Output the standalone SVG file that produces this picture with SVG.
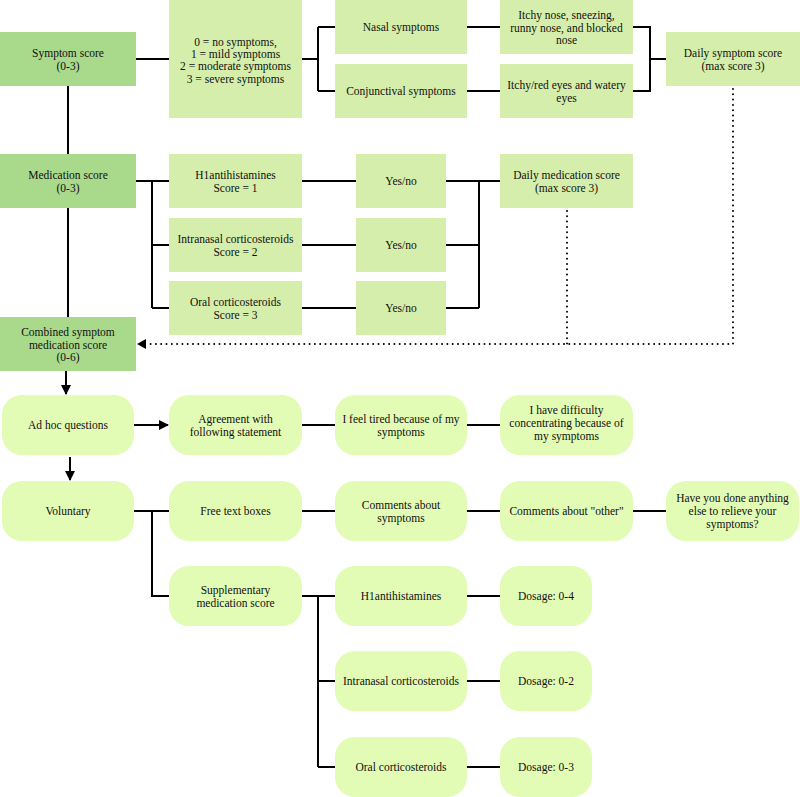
<svg xmlns="http://www.w3.org/2000/svg" width="800" height="797" viewBox="0 0 800 797">
<style>
.d{fill:#a9d98b}
.l{fill:#d5eeab}
.r{fill:#e2fbb5}
text{font-family:"Liberation Serif","Times New Roman",serif;font-size:11.5px;fill:#111;text-anchor:middle}
.c{fill:none;stroke:#000;stroke-width:2}
.dot{fill:none;stroke:#000;stroke-width:2;stroke-linecap:round;stroke-dasharray:0 5.3}
</style>
<defs>
<marker id="ah" markerWidth="10" markerHeight="10" refX="9" refY="5" orient="auto" markerUnits="userSpaceOnUse">
<path d="M0,0 L10,5 L0,10 z" fill="#000"/>
</marker>
</defs>
<rect width="800" height="797" fill="#fff"/>
<g id="connectors">
<path class="c" d="M136,59 H169"/>
<path class="c" d="M302,59 H318 M318,27 V91 M318,27 H335 M318,91 H335"/>
<path class="c" d="M467,27 H500 M467,91 H500"/>
<path class="c" d="M633,27 H650 V91 H633 M650,59 H666"/>
<path class="c" d="M68,86 V154"/>
<path class="c" d="M136,181 H169 M152,181 V308 M152,245 H169 M152,308 H169"/>
<path class="c" d="M302,181 H356 M302,245 H356 M302,308 H356"/>
<path class="c" d="M446,181 H500 M446,245 H479 M446,308 H479 M479,181 V308"/>
<path class="c" d="M68,208 V317"/>
<path class="dot" d="M733,89 V344 H146"/>
<path class="dot" d="M567,211 V344"/>
<path fill="#000" d="M137,344 L146,339 L146,349 z"/>
<path class="c" d="M66,371 V394" marker-end="url(#ah)"/>
<path class="c" d="M134,425 H168" marker-end="url(#ah)"/>
<path class="c" d="M302,425 H335 M467,425 H500"/>
<path class="c" d="M70,457 V480" marker-end="url(#ah)"/>
<path class="c" d="M134,511 H169 M152,511 V596 H169"/>
<path class="c" d="M302,511 H335 M467,511 H500 M633,511 H666"/>
<path class="c" d="M302,596 H335 M318,596 V767 M318,681 H335 M318,767 H335"/>
<path class="c" d="M467,596 H500 M467,681 H500 M467,767 H500"/>
</g>
<g id="symptom_score"><rect class="d" x="0" y="32" width="136" height="54"/><text x="68" y="57">Symptom score</text><text x="68" y="70">(0-3)</text></g>
<g id="scale"><rect class="l" x="169" y="0" width="133" height="118"/><text x="235.5" y="45.5">0 = no symptoms,</text><text x="235.5" y="57.5">1 = mild symptoms</text><text x="235.5" y="70">2 = moderate symptoms</text><text x="235.5" y="83">3 = severe symptoms</text></g>
<g id="nasal"><rect class="l" x="335" y="0" width="132" height="54"/><text x="401" y="31">Nasal symptoms</text></g>
<g id="conj"><rect class="l" x="335" y="64" width="132" height="54"/><text x="401" y="95">Conjunctival symptoms</text></g>
<g id="itchy_nose"><rect class="l" x="500" y="0" width="133" height="54"/><text x="566.5" y="19">Itchy nose, sneezing,</text><text x="566.5" y="31.5">runny nose, and blocked</text><text x="566.5" y="44">nose</text></g>
<g id="itchy_eyes"><rect class="l" x="500" y="64" width="133" height="54"/><text x="566.5" y="89">Itchy/red eyes and watery</text><text x="566.5" y="102">eyes</text></g>
<g id="daily_symptom"><rect class="l" x="666" y="32" width="134" height="54"/><text x="733" y="57">Daily symptom score</text><text x="733" y="70">(max score 3)</text></g>
<g id="medication_score"><rect class="d" x="0" y="154" width="136" height="54"/><text x="68" y="179">Medication score</text><text x="68" y="192">(0-3)</text></g>
<g id="h1"><rect class="l" x="169" y="154" width="133" height="54"/><text x="235.5" y="179">H1antihistamines</text><text x="235.5" y="192">Score = 1</text></g>
<g id="intranasal"><rect class="l" x="169" y="218" width="133" height="54"/><text x="235.5" y="243">Intranasal corticosteroids</text><text x="235.5" y="256">Score = 2</text></g>
<g id="oral"><rect class="l" x="169" y="281" width="133" height="54"/><text x="235.5" y="306">Oral corticosteroids</text><text x="235.5" y="319">Score = 3</text></g>
<g id="yesno1"><rect class="l" x="356" y="154" width="90" height="54"/><text x="401" y="185">Yes/no</text></g>
<g id="yesno2"><rect class="l" x="356" y="218" width="90" height="54"/><text x="401" y="249">Yes/no</text></g>
<g id="yesno3"><rect class="l" x="356" y="281" width="90" height="54"/><text x="401" y="312">Yes/no</text></g>
<g id="daily_medication"><rect class="l" x="500" y="154" width="133" height="54"/><text x="566.5" y="179">Daily medication score</text><text x="566.5" y="192">(max score 3)</text></g>
<g id="combined"><rect class="d" x="0" y="317" width="136" height="54"/><text x="68" y="336">Combined symptom</text><text x="68" y="348.5">medication score</text><text x="68" y="361">(0-6)</text></g>
<g id="adhoc"><rect class="r" x="2" y="395" width="132" height="60" rx="20"/><text x="68" y="429">Ad hoc questions</text></g>
<g id="agreement"><rect class="r" x="169" y="395" width="133" height="60" rx="20"/><text x="235.5" y="423">Agreement with</text><text x="235.5" y="436">following statement</text></g>
<g id="tired"><rect class="r" x="335" y="395" width="132" height="60" rx="20"/><text x="401" y="423">I feel tired because of my</text><text x="401" y="436">symptoms</text></g>
<g id="difficulty"><rect class="r" x="500" y="395" width="133" height="60" rx="20"/><text x="566.5" y="414">I have difficulty</text><text x="566.5" y="427">concentrating because of</text><text x="566.5" y="440">my symptoms</text></g>
<g id="voluntary"><rect class="r" x="2" y="481" width="132" height="60" rx="20"/><text x="68" y="515">Voluntary</text></g>
<g id="free_text"><rect class="r" x="169" y="481" width="133" height="60" rx="20"/><text x="235.5" y="515">Free text boxes</text></g>
<g id="comments_symptoms"><rect class="r" x="335" y="481" width="132" height="60" rx="20"/><text x="401" y="509">Comments about</text><text x="401" y="522">symptoms</text></g>
<g id="comments_other"><rect class="r" x="500" y="481" width="133" height="60" rx="20"/><text x="566.5" y="515">Comments about "other"</text></g>
<g id="anything_else"><rect class="r" x="666" y="481" width="133" height="60" rx="20"/><text x="732.5" y="502">Have you done anything</text><text x="732.5" y="515">else to relieve your</text><text x="732.5" y="528">symptoms?</text></g>
<g id="supplementary"><rect class="r" x="169" y="566" width="133" height="60" rx="20"/><text x="235.5" y="594">Supplementary</text><text x="235.5" y="607">medication score</text></g>
<g id="s_h1"><rect class="r" x="335" y="566" width="132" height="60" rx="20"/><text x="401" y="600">H1antihistamines</text></g>
<g id="s_intranasal"><rect class="r" x="335" y="651" width="132" height="60" rx="20"/><text x="401" y="685">Intranasal corticosteroids</text></g>
<g id="s_oral"><rect class="r" x="335" y="737" width="132" height="60" rx="20"/><text x="401" y="771">Oral corticosteroids</text></g>
<g id="dosage1"><rect class="r" x="500" y="566" width="92" height="60" rx="20"/><text x="546" y="600">Dosage: 0-4</text></g>
<g id="dosage2"><rect class="r" x="500" y="651" width="92" height="60" rx="20"/><text x="546" y="685">Dosage: 0-2</text></g>
<g id="dosage3"><rect class="r" x="500" y="737" width="92" height="60" rx="20"/><text x="546" y="771">Dosage: 0-3</text></g>
</svg>
